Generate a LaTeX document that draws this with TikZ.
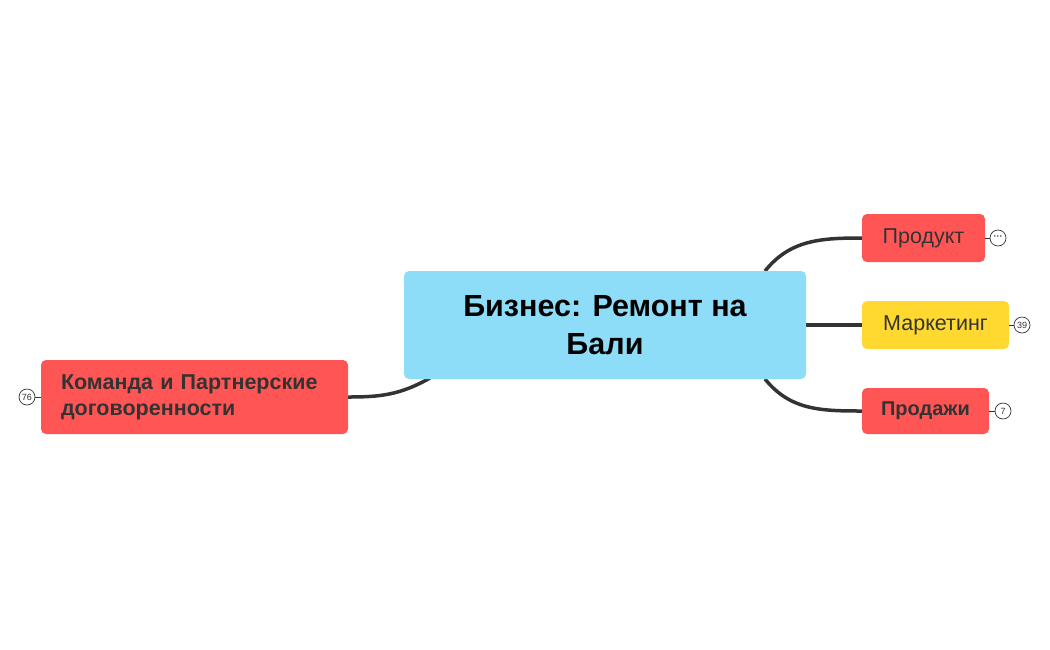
\documentclass[tikz,border=0pt]{standalone}
\usepackage{fontspec}
\setmainfont{Liberation Sans}
\definecolor{cblue}{HTML}{8EDDF8}
\definecolor{cred}{HTML}{FF5555}
\definecolor{cyel}{HTML}{FFD930}
\definecolor{cline}{HTML}{333333}
\begin{document}
\begin{tikzpicture}[x=1pt,y=-1pt,
  box/.style={rounded corners=5pt,inner sep=0pt,text=cline,font=\fontsize{21.5}{25}\selectfont},
  conn/.style={line width=3.5pt,draw=cline},
  badge/.style={circle,draw=cline,line width=0.7pt,fill=white,minimum size=16pt,inner sep=0pt,font=\fontsize{9}{10}\selectfont,text=cline},
  tie/.style={line width=1pt,draw=cline}]
\useasboundingbox (0,0) rectangle (1050,649);
\draw[conn] (765,271) .. controls (790,240) and (820,238) .. (862,238);
\draw[conn] (806,325) -- (862,325);
\draw[conn] (765,379) .. controls (790,410) and (820,411) .. (862,411);
\draw[conn] (430,378) .. controls (400,395) and (380,397) .. (348,397);
\node[box,fill=cblue,minimum width=402pt,minimum height=108pt,align=center,text=black,font=\bfseries\fontsize{30.5}{38}\selectfont] (c) at (605,325) {Бизнес: Ремонт на\\Бали};
\node[box,fill=cred,minimum width=123pt,minimum height=48pt] (p) at (923.5,238) {Продукт};
\node[box,fill=cyel,minimum width=147pt,minimum height=48pt] (m) at (935.5,325) {Маркетинг};
\node[box,fill=cred,minimum width=127pt,minimum height=46pt,font=\bfseries\fontsize{20}{23}\selectfont] (s) at (925.5,411) {Продажи};
\node[box,fill=cred,minimum width=307pt,minimum height=74pt,align=left,text width=267pt,font=\bfseries\fontsize{21.5}{26}\selectfont] (l) at (194.5,397) {Команда и Партнерские\\договоренности};
\node[badge] (bp) at (998,238) {\textbf{···}};
\node[badge] (bm) at (1022,325) {39};
\node[badge] (bs) at (1003,411) {7};
\node[badge] (bl) at (27,397) {76};
\draw[tie] (p.east) -- (bp);
\draw[tie] (m.east) -- (bm);
\draw[tie] (s.east) -- (bs);
\draw[tie] (l.west) -- (bl);
\end{tikzpicture}
\end{document}
